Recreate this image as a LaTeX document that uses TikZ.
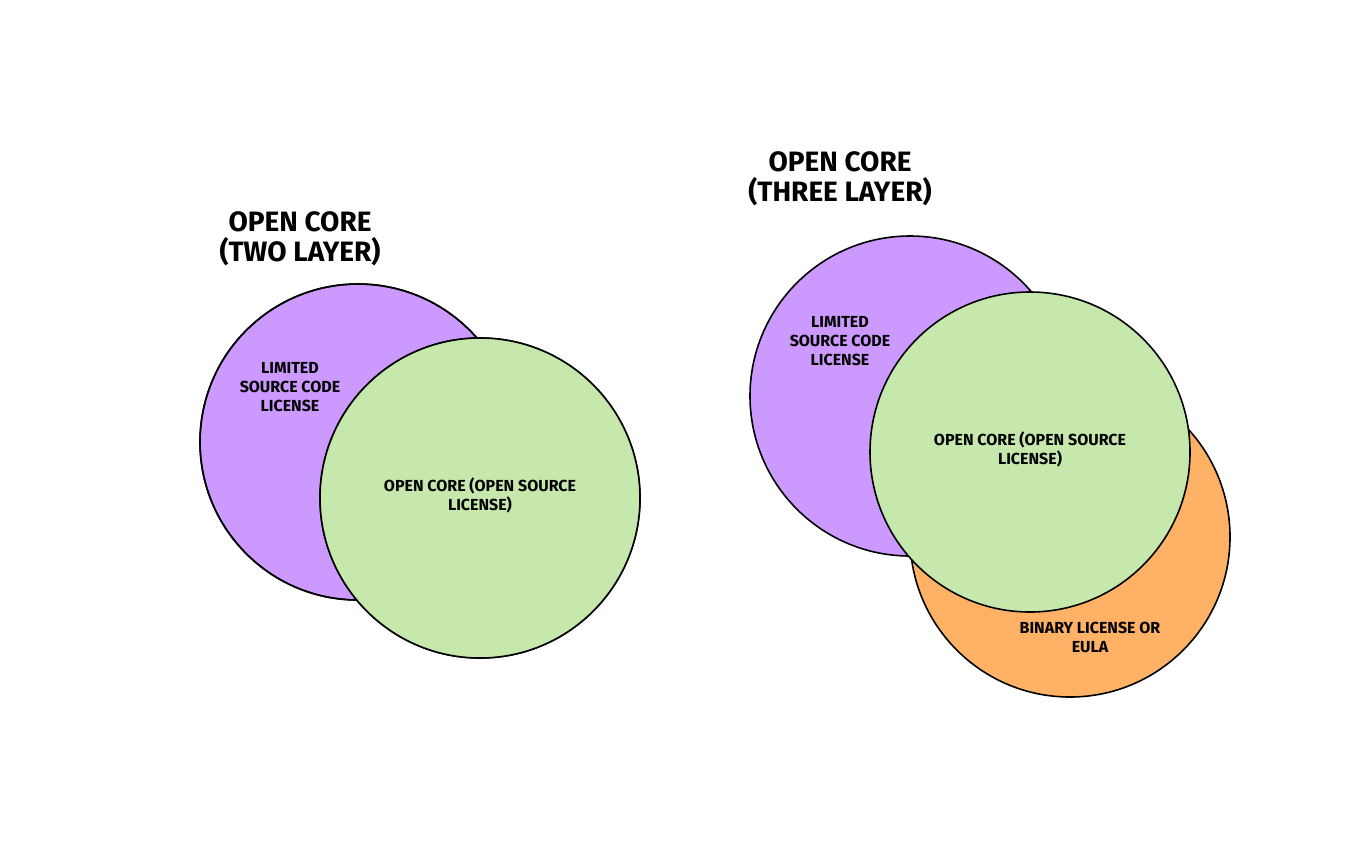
\documentclass[tikz,border=0pt]{standalone}
\usepackage{fontspec}
\setmainfont{Fira Sans}
\definecolor{cpurple}{HTML}{CC99FF}
\definecolor{cgreen}{HTML}{C7E8AC}
\definecolor{corange}{HTML}{FFB266}
\begin{document}
\begin{tikzpicture}[x=0.5pt,y=-0.5pt,
  circ/.style={draw=black,line width=0.8pt},
  ttl/.style={font=\fontsize{14}{15}\selectfont\bfseries,align=center},
  lbl/.style={font=\fontsize{8}{9.5}\selectfont\bfseries,align=center}]
\useasboundingbox (0,0) rectangle (1359,853);
\fill[circ,fill=cpurple] (358,442) circle (158);
\fill[circ,fill=cgreen] (480,498) circle (160);
\draw[circ] (358,442) circle (158);
\fill[cgreen] (480,498) circle (160);
\draw[circ] (480,498) circle (160);
\node[ttl] (t1) at (300,239) {OPEN CORE\\(TWO LAYER)};
\node[lbl] (l1) at (290,387) {LIMITED\\SOURCE CODE\\LICENSE};
\node[lbl] (g1) at (480,495) {OPEN CORE (OPEN SOURCE\\LICENSE)};
\draw[circ,fill=cpurple] (910,396) circle (160);
\draw[circ,fill=corange] (1070,537) circle (160);
\draw[circ,fill=cgreen] (1030,452) circle (160);
\node[ttl] (t2) at (840,179) {OPEN CORE\\(THREE LAYER)};
\node[lbl] (l2) at (840,341) {LIMITED\\SOURCE CODE\\LICENSE};
\node[lbl] (g2) at (1030,449) {OPEN CORE (OPEN SOURCE\\LICENSE)};
\node[lbl] (o2) at (1090,637) {BINARY LICENSE OR\\EULA};
\end{tikzpicture}
\end{document}
